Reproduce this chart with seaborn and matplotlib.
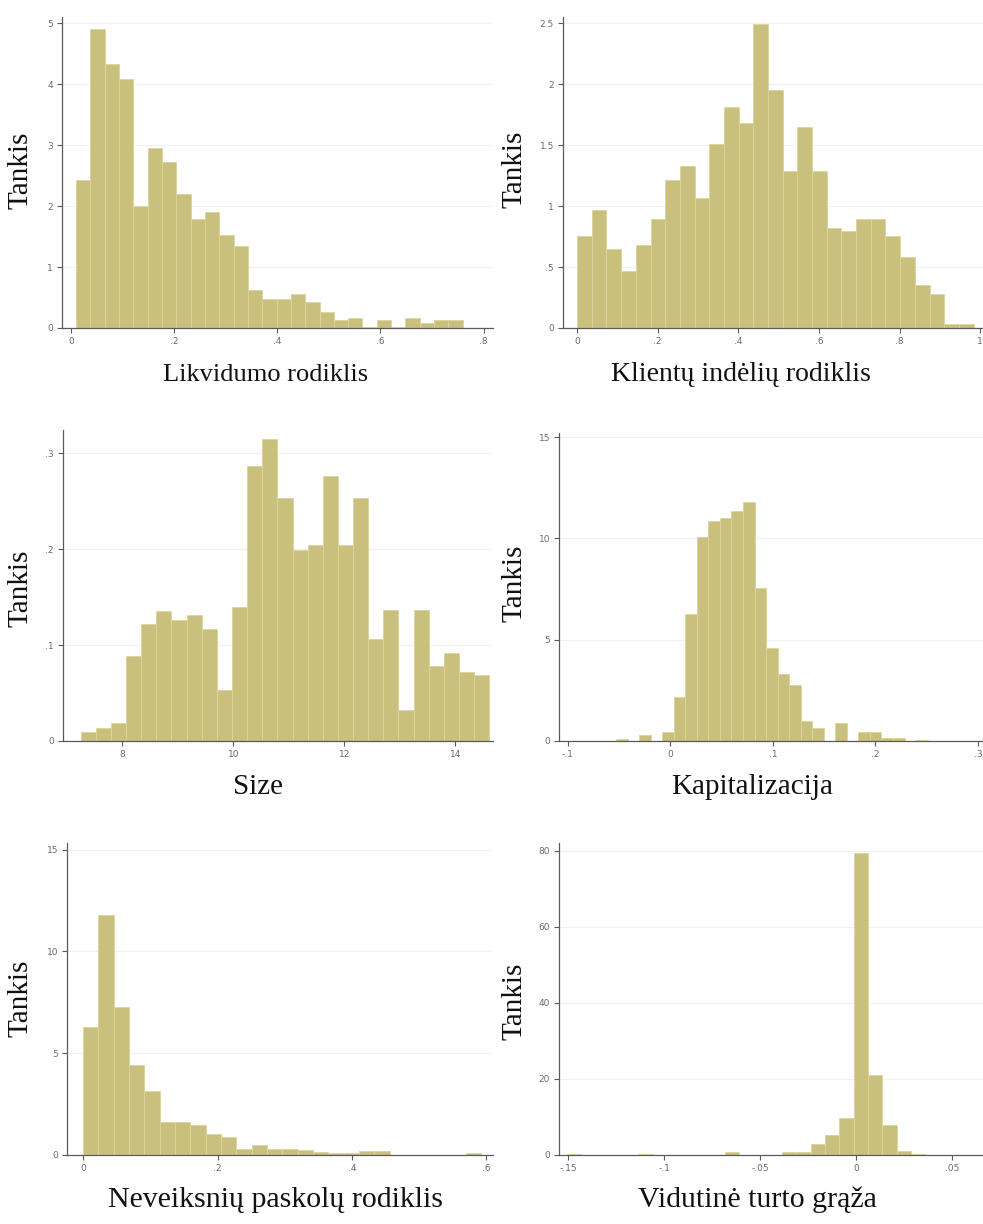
import numpy as np
import matplotlib
matplotlib.use("Agg")
import matplotlib.pyplot as plt
import seaborn as sns

# ---------------- data (density histograms) ----------------
likv_range = (0.0103, 0.7593)
likv_dens = [2.42, 4.90, 4.33, 4.09, 2.00, 2.95, 2.72, 2.19, 1.78, 1.90, 1.52, 1.34,
             0.62, 0.48, 0.48, 0.56, 0.43, 0.27, 0.13, 0.17, 0.02, 0.13, 0.02, 0.17,
             0.08, 0.13, 0.13]

klient_range = (0.0, 0.9836)
klient_dens = [0.757, 0.97, 0.648, 0.464, 0.678, 0.896, 1.216, 1.33, 1.068, 1.508,
               1.809, 1.68, 2.495, 1.954, 1.284, 1.648, 1.29, 0.82, 0.792, 0.893,
               0.893, 0.751, 0.579, 0.35, 0.281, 0.036, 0.036]

size_range = (7.2485, 14.612)
size_dens = [0.0094, 0.0139, 0.0188, 0.0882, 0.1215, 0.135, 0.1264, 0.1316, 0.117,
             0.0528, 0.1396, 0.2861, 0.3149, 0.2531, 0.1986, 0.2038, 0.2757, 0.2038,
             0.2531, 0.1066, 0.1361, 0.0326, 0.1361, 0.0778, 0.092, 0.0719, 0.0684]

kap_range = (-0.05307, 0.25100)
kap_dens = [0.12, 0.0, 0.3, 0.0, 0.44, 2.17, 6.26, 10.08, 10.87, 10.99, 11.35, 11.81,
            7.53, 4.61, 3.29, 2.78, 0.99, 0.66, 0.0, 0.89, 0.0, 0.44, 0.44, 0.15,
            0.15, 0.0, 0.07]

npl_range = (0.0, 0.5928)
npl_dens = [6.31, 11.8, 7.26, 4.43, 3.15, 1.64, 1.64, 1.48, 1.03, 0.90, 0.28, 0.49,
            0.30, 0.30, 0.25, 0.16, 0.11, 0.11, 0.18, 0.18, 0.0, 0.0, 0.0, 0.0, 0.0,
            0.11]

roa_range = (-0.1506, 0.0359)
roa_dens = [0.15, 0.0, 0.0, 0.0, 0.0, 0.3, 0.0, 0.0, 0.0, 0.0, 0.0, 0.88, 0.0, 0.0,
            0.0, 0.7, 0.9, 2.8, 5.3, 9.7, 79.5, 21.0, 7.9, 1.1, 0.35]

xlabels = ["Likvidumo rodiklis", "Klientų indėlių rodiklis", "Size",
           "Kapitalizacija", "Neveiksnių paskolų rodiklis", "Vidutinė turto grąža"]
ylabel = "Tankis"

xticks = [[0, 0.2, 0.4, 0.6, 0.8], [0, 0.2, 0.4, 0.6, 0.8, 1.0], [8, 10, 12, 14],
          [-0.1, 0, 0.1, 0.2, 0.3], [0, 0.2, 0.4, 0.6], [-0.15, -0.1, -0.05, 0, 0.05]]
xticklabels = [["0", ".2", ".4", ".6", ".8"], ["0", ".2", ".4", ".6", ".8", "1"],
               ["8", "10", "12", "14"], ["-.1", "0", ".1", ".2", ".3"],
               ["0", ".2", ".4", ".6"], ["-.15", "-.1", "-.05", "0", ".05"]]
yticks = [[0, 1, 2, 3, 4, 5], [0, 0.5, 1, 1.5, 2, 2.5], [0, 0.1, 0.2, 0.3],
          [0, 5, 10, 15], [0, 5, 10, 15], [0, 20, 40, 60, 80]]
yticklabels = [["0", "1", "2", "3", "4", "5"], ["0", ".5", "1", "1.5", "2", "2.5"],
               ["0", ".1", ".2", ".3"], ["0", "5", "10", "15"], ["0", "5", "10", "15"],
               ["0", "20", "40", "60", "80"]]

# ---------------- layout ----------------
sns.set_theme(style="white")
plt.rcParams["font.family"] = ["DejaVu Sans"]

W, H = 983, 1224
fig = plt.figure(figsize=(W / 100, H / 100), dpi=100)
fig.patch.set_facecolor("white")

# axes boxes in pixel coords: (left, right, y_bottom, y_top)
boxes = [(62, 493, 328, 17), (563, 983, 328, 17),
         (63, 493, 741, 430), (559, 983, 741, 433),
         (67, 493, 1155, 843), (559, 983, 1155, 843)]
xlims = [(-0.017, 0.818), (-0.035, 1.007), (6.93, 14.68), (-0.1087, 0.305),
         (-0.024, 0.61), (-0.1547, 0.066)]
ylims = [(0, 5.1), (0, 2.55), (0, 0.324), (0, 15.2), (0, 15.33), (0, 82)]
# (x centre, baseline y) in pixels
xlabel_pos = [(266, 381), (741, 381), (258, 794), (752, 794), (276, 1207), (757, 1207)]
xlabel_size = [19, 20, 21, 21, 21.5, 21.5]
ylabel_pos = [(21, 170), (515, 169), (21, 588), (515, 583), (21, 998), (515, 1001)]

datasets = [(likv_range, likv_dens), (klient_range, klient_dens),
            (size_range, size_dens), (kap_range, kap_dens),
            (npl_range, npl_dens), (roa_range, roa_dens)]

bar_color = "#c9c07d"
edge_color = "#ddd59c"
serif = ["Liberation Serif", "DejaVu Serif"]

for i, ((lo, hi), dens) in enumerate(datasets):
    l, r, yb, yt = boxes[i]
    ax = fig.add_axes([l / W, 1 - yb / H, (r - l) / W, (yb - yt) / H])
    n = len(dens)
    w = (hi - lo) / n
    centers = lo + w * (np.arange(n) + 0.5)
    sns.histplot(x=centers, weights=dens, bins=n, binrange=(lo, hi), stat="count",
                 color=bar_color, edgecolor=edge_color, linewidth=0.6, alpha=1.0,
                 ax=ax)
    ax.set_xlim(*xlims[i])
    ax.set_ylim(*ylims[i])
    ax.set_xticks(xticks[i])
    ax.set_xticklabels(xticklabels[i])
    ax.set_yticks(yticks[i])
    ax.set_yticklabels(yticklabels[i])
    ax.set_xlabel("")
    ax.set_ylabel("")
    ax.set_facecolor("white")
    ax.yaxis.grid(True, color="#f1f1f1", linewidth=0.9)
    ax.set_axisbelow(True)
    for s in ["top", "right"]:
        ax.spines[s].set_visible(False)
    for s in ["left", "bottom"]:
        ax.spines[s].set_color("#5a5a5a")
        ax.spines[s].set_linewidth(0.9)
    ax.tick_params(axis="both", which="major", direction="out", length=3.5,
                   width=0.8, color="#5a5a5a", labelsize=6.5, labelcolor="#6a6a6a",
                   pad=3, left=True, bottom=True)
    fig.text(xlabel_pos[i][0] / W, 1 - xlabel_pos[i][1] / H, xlabels[i],
             family=serif, fontsize=xlabel_size[i], ha="center", va="baseline",
             color="#111111")
    fig.text(ylabel_pos[i][0] / W, 1 - ylabel_pos[i][1] / H, ylabel, family=serif,
             fontsize=21, rotation=90, ha="center", va="center", color="#111111")

fig.savefig("out.png", dpi=100, facecolor="white")
